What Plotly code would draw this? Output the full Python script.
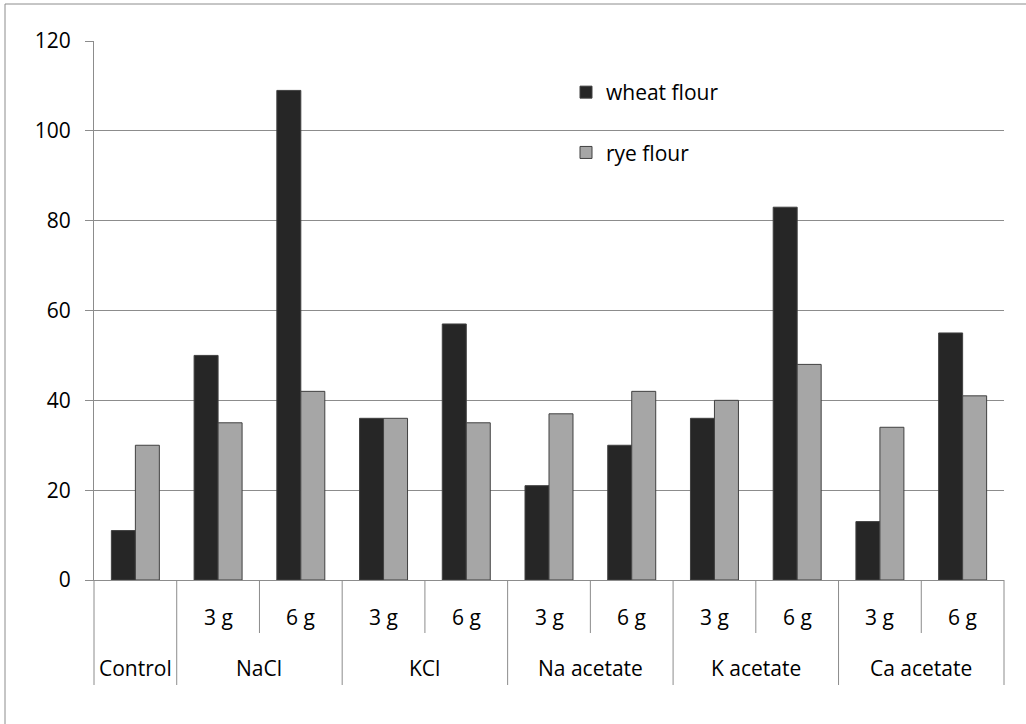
import plotly.graph_objects as go

groups = ["Control", "NaCl", "NaCl", "KCl", "KCl", "Na acetate", "Na acetate",
          "K acetate", "K acetate", "Ca acetate", "Ca acetate"]
doses = ["", "3 g", "6 g", "3 g", "6 g", "3 g", "6 g", "3 g", "6 g", "3 g", "6 g"]
wheat = [11, 50, 109, 36, 57, 21, 30, 36, 83, 13, 55]
rye = [30, 35, 42, 36, 35, 37, 42, 40, 48, 34, 41]
y_ticks = [0, 20, 40, 60, 80, 100, 120]

FONT = "Open Sans"
FS = 21
n = len(groups)
xs = list(range(n))

fig = go.Figure()
fig.add_trace(go.Bar(x=xs, y=wheat, name="wheat flour", legendgroup="a",
                     marker=dict(color="#262626", line=dict(color="#404040", width=1))))
fig.add_trace(go.Bar(x=xs, y=rye, name="rye flour", legendgroup="b",
                     marker=dict(color="#a6a6a6", line=dict(color="#404040", width=1))))

L, R, T, B = 94, 22, 41, 144
W, H = 1026, 724
ph = H - T - B
pw = W - L - R

def py(pix):
    return (H - B - pix) / ph

def px(pix):
    return (pix - L) / pw

shapes = []
annotations = []
# dividers between categories below axis
for b in range(n + 1):
    xb = b - 0.5
    xp = (xb + 0.5) / n
    if b == 0 or b == n or groups[b] != groups[b - 1]:
        y1 = py(685)
    else:
        y1 = py(633)
    shapes.append(dict(type="line", xref="paper", yref="paper", x0=xp, x1=xp,
                       y0=0, y1=y1, line=dict(color="#8c8c8c", width=1)))

for i, d in enumerate(doses):
    if d:
        annotations.append(dict(x=i, y=py(617), xref="x", yref="paper", text=d,
                                showarrow=False, font=dict(family=FONT, size=FS, color="#000"),
                                xanchor="center", yanchor="middle"))
seen = []
for i, g in enumerate(groups):
    if g in seen:
        continue
    seen.append(g)
    idx = [j for j, gg in enumerate(groups) if gg == g]
    xc = (idx[0] + idx[-1]) / 2
    annotations.append(dict(x=xc, y=py(668), xref="x", yref="paper", text=g,
                            showarrow=False, font=dict(family=FONT, size=FS, color="#000"),
                            xanchor="center", yanchor="middle"))

# outer chart border (left and top visible)
shapes.append(dict(type="rect", xref="paper", yref="paper",
                   x0=px(5), x1=px(1040), y0=py(740), y1=py(4),
                   line=dict(color="#8c8c8c", width=1),
                   fillcolor="rgba(0,0,0,0)", layer="below"))

fig.update_layout(
    width=W, height=H,
    margin=dict(l=L, r=R, t=T, b=B, pad=0),
    paper_bgcolor="white", plot_bgcolor="white",
    barmode="group", bargap=0.42, bargroupgap=0,
    font=dict(family=FONT, size=FS, color="#000"),
    showlegend=True,
    legend=dict(x=px(566), y=py(72), xanchor="left", yanchor="top",
                font=dict(family=FONT, size=FS, color="#000"),
                bgcolor="rgba(0,0,0,0)", tracegroupgap=30, traceorder="grouped"),
    shapes=shapes,
    annotations=annotations,
    xaxis=dict(range=[-0.5, n - 0.5], showticklabels=False, showgrid=False,
               zeroline=False, showline=True, linecolor="#8c8c8c", linewidth=1,
               ticks=""),
    yaxis=dict(range=[0, 120], tickvals=y_ticks, ticktext=[str(v) for v in y_ticks],
               showgrid=True, gridcolor="#8c8c8c", gridwidth=1, zeroline=False,
               showline=True, linecolor="#8c8c8c", linewidth=1,
               ticks="outside", ticklen=8, tickcolor="#8c8c8c",
               ticklabelstandoff=10,
               tickfont=dict(family=FONT, size=FS, color="#000")),
)

fig.write_html("out.html", config={"displayModeBar": False},
               post_script="document.body.style.margin='0px';document.body.style.overflow='hidden';")
